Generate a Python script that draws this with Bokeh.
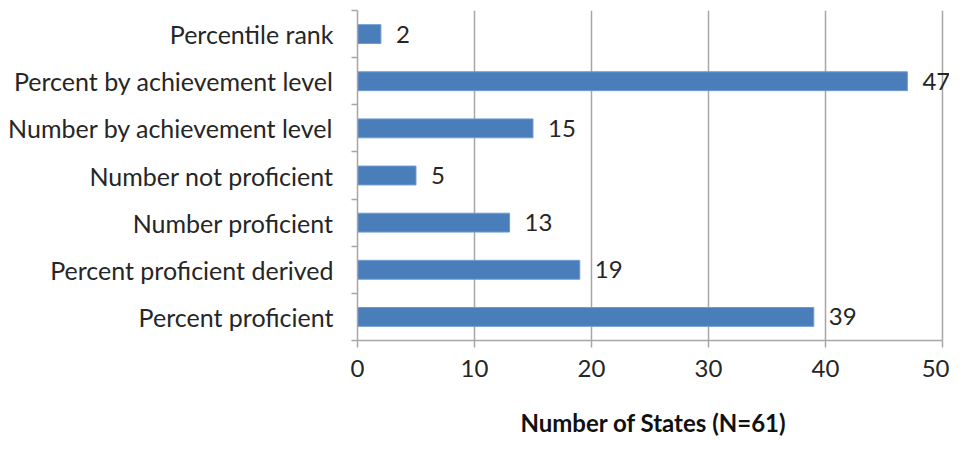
from bokeh.plotting import figure
from bokeh.models import Range1d, FixedTicker, ColumnDataSource
from bokeh.core.properties import value
from bokeh.embed import file_html
from bokeh.resources import INLINE

# Data (top to bottom as shown)
categories = [
    "Percentile rank",
    "Percent by achievement level",
    "Number by achievement level",
    "Number not proficient",
    "Number proficient",
    "Percent proficient derived",
    "Percent proficient",
]
counts = [2, 47, 15, 5, 13, 19, 39]
x_ticks = [0, 10, 20, 30, 40, 50]
x_title = "Number of States (N=61)"

n = len(categories)
ypos = [n - i for i in range(n)]

src = ColumnDataSource(dict(y=ypos, v=counts, lbl=[str(c) for c in counts]))

FONT = "Lato"
BLUE = "#4a7ebb"
GRID = "#a6a6a6"
TXT = "#262626"

p = figure(width=949, height=441, output_backend="svg", toolbar_location=None,
           x_range=Range1d(0, 50.6), y_range=Range1d(0.5, n + 0.5),
           min_border_left=357, min_border_right=0, min_border_top=10,
           min_border_bottom=101)
p.outline_line_color = None
p.background_fill_color = "white"
p.border_fill_color = "white"

p.hbar(y="y", right="v", left=0, height=0.4, source=src,
       fill_color=BLUE, line_color="#6d9bd1", line_width=1)
p.text(x="v", y="y", text="lbl", source=src, x_offset=15,
       text_align="left", text_baseline="middle",
       text_font=value(FONT), text_font_size="24px", text_color=TXT)

# x axis
xa = p.xaxis[0]
xa.ticker = FixedTicker(ticks=x_ticks)
xa.bounds = (0, 50)
xa.axis_line_color = GRID
xa.axis_line_width = 1.5
xa.major_tick_line_color = GRID
xa.major_tick_line_width = 1.5
xa.major_tick_out = 7
xa.major_tick_in = 0
xa.minor_tick_line_color = None
xa.major_label_standoff = 12
xa.major_label_text_font = FONT
xa.major_label_text_font_size = "24px"
xa.major_label_text_color = TXT
xa.axis_label = x_title
xa.axis_label_standoff = 28
xa.axis_label_text_font = FONT
xa.axis_label_text_font_size = "24px"
xa.axis_label_text_font_style = "bold"
xa.axis_label_text_color = "#111111"

# y axis
ya = p.yaxis[0]
ya.ticker = FixedTicker(ticks=ypos, minor_ticks=[k + 0.5 for k in range(n + 1)])
ya.major_label_overrides = {y: c for y, c in zip(ypos, categories)}
ya.axis_line_color = GRID
ya.axis_line_width = 1.5
ya.major_tick_line_color = None
ya.major_tick_out = 0
ya.major_tick_in = 0
ya.minor_tick_line_color = GRID
ya.minor_tick_line_width = 1.5
ya.minor_tick_out = 6
ya.minor_tick_in = 0
ya.major_label_standoff = 18
ya.major_label_text_font = FONT
ya.major_label_text_font_size = "25px"
ya.major_label_text_color = TXT

# grid
p.xgrid.ticker = FixedTicker(ticks=x_ticks)
p.xgrid.grid_line_color = GRID
p.xgrid.grid_line_width = 1.5
p.ygrid.grid_line_color = None

open("out.html", "w").write(file_html(p, INLINE))
